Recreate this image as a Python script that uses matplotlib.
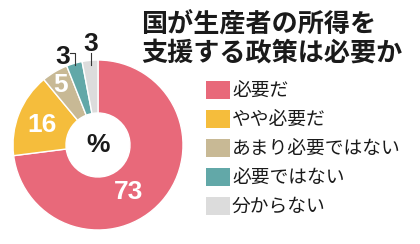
import numpy as np
import matplotlib
matplotlib.use('Agg')
import matplotlib.pyplot as plt
from matplotlib.patches import Rectangle

plt.rcParams['font.family'] = ['Noto Sans CJK JP', 'DejaVu Sans']

# ---- data ---------------------------------------------------------------
title_lines = ['国が生産者の所得を', '支援する政策は必要か']
categories  = ['必要だ', 'やや必要だ', 'あまり必要ではない', '必要ではない', '分からない']
values      = [73, 16, 5, 3, 3]
colors      = ['#E8697A', '#F5BD3C', '#C8B995', '#62A8A8', '#DCDCDC']

# ---- layout (pixel units, y up) -----------------------------------------
W, H = 420, 244
CX, CY = 98, H - 145
R_OUT, R_IN = 85, 32
NUM_FONT = ['Liberation Sans', 'DejaVu Sans']

fig = plt.figure(figsize=(W / 100, H / 100), dpi=100)
ax = fig.add_axes([0, 0, 1, 1])

wedges, _ = ax.pie(values, colors=colors, startangle=90, counterclock=False,
                   center=(CX, CY), radius=R_OUT, frame=True,
                   wedgeprops=dict(width=R_OUT - R_IN, edgecolor='white',
                                   linewidth=1.0))
ax.set_xlim(0, W)
ax.set_ylim(0, H)
ax.set_aspect('equal')
ax.axis('off')

# value labels: (radius, angle shift deg, inside?)
label_pos = [(56, -15, True), (59, 2, True), (71, 1.5, True),
             (95, 5.5, False), (101, -1, False)]
for w, v, (r, shift, inside) in zip(wedges, values, label_pos):
    ang = np.deg2rad((w.theta1 + w.theta2) / 2 + shift)
    x, y = CX + r * np.cos(ang), CY + r * np.sin(ang)
    ax.text(x, y, str(v), ha='center', va='center', fontsize=19,
            fontweight='bold', family=NUM_FONT,
            color='white' if inside else '#1a1a1a')

# leader marks for the small outside labels
ax.plot([CX - 28, CX - 23, CX - 23], [CY + 92, CY + 92, CY + 80],
        color='#333333', lw=0.8)
ax.plot([CX - 7, CX - 7], [CY + 92, CY + 80], color='#333333', lw=0.8)

ax.text(CX, CY, '%', ha='center', va='center', fontsize=19,
        fontweight='bold', family=NUM_FONT, color='#1a1a1a')

# title
for i, line in enumerate(title_lines):
    ax.text(141, H - 25 - 28 * i, line, ha='left', va='center',
            fontsize=18.8, fontweight='bold', color='#1a1a1a')

# legend
for i, (cat, col) in enumerate(zip(categories, colors)):
    y = H - 90 - 29 * i
    ax.add_patch(Rectangle((206, y - 9), 24, 18, facecolor=col,
                           edgecolor='none'))
    ax.text(232, y, cat, ha='left', va='center', fontsize=13.5,
            color='#1a1a1a')

fig.savefig('out.png', dpi=100)
